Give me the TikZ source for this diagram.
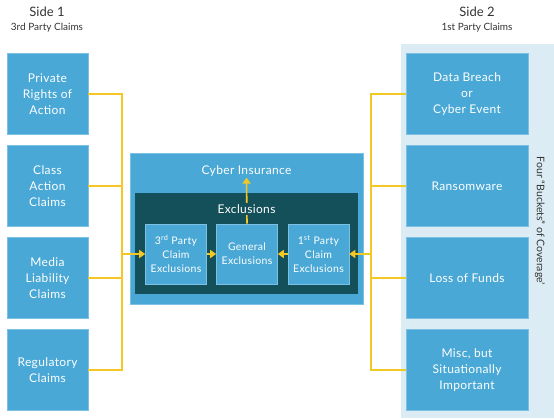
\documentclass[tikz,border=0pt]{standalone}
\usepackage{fontspec}
\setmainfont{Lato}
\newfontfamily\spacedfont{Lato}[LetterSpace=3]
\usetikzlibrary{arrows.meta}
\definecolor{boxblue}{HTML}{49A8D5}
\definecolor{boxedge}{HTML}{7CC1E4}
\definecolor{darkteal}{HTML}{14505A}
\definecolor{panelblue}{HTML}{DCECF5}
\definecolor{gold}{HTML}{F4C824}
\definecolor{headgray}{HTML}{333333}
\tikzset{
  claimbox/.style={fill=boxblue, draw=boxedge, line width=0.6pt, text=white,
    align=center, inner sep=0pt, font=\spacedfont\fontsize{12}{16}\selectfont},
  sidebox/.style={claimbox, minimum width=81pt, minimum height=81pt},
  firstbox/.style={claimbox, minimum width=122pt, minimum height=81pt},
  exclbox/.style={claimbox, minimum width=61pt, minimum height=60pt,
    font=\spacedfont\fontsize{10.5}{14}\selectfont},
  conn/.style={draw=gold, line width=1.6pt},
  arr/.style={conn, -{Triangle[length=6pt,width=8pt]}},
  heading/.style={text=headgray, font=\fontsize{13}{15}\selectfont},
  subheading/.style={text=headgray, font=\fontsize{10}{12}\selectfont}
}
\begin{document}
\begin{tikzpicture}[x=1pt, y=-1pt]
\useasboundingbox (0,0) rectangle (554,418);

% first party panel
\fill[panelblue] (401,44) rectangle (554,418);

% column headings
\node[heading] (s1) at (47,12) {Side 1};
\node[subheading] (s1sub) at (47,28) {3rd Party Claims};
\node[heading] (s2) at (477,12) {Side 2};
\node[subheading] (s2sub) at (477,28) {1st Party Claims};

% third party claims
\node[sidebox] (l1) at (47.5,94) {Private\\Rights of\\Action};
\node[sidebox] (l2) at (47.5,186) {Class\\Action\\Claims};
\node[sidebox] (l3) at (47.5,278) {Media\\Liability\\Claims};
\node[sidebox] (l4) at (47.5,370) {Regulatory\\Claims};

% first party claims
\node[firstbox] (r1) at (467,94) {Data Breach\\or\\Cyber Event};
\node[firstbox] (r2) at (467,186) {Ransomware};
\node[firstbox] (r3) at (467,278) {Loss of Funds};
\node[firstbox] (r4) at (467,370) {Misc, but\\Situationally\\Important};

\node[rotate=-90, text=headgray, font=\fontsize{10.5}{12}\selectfont] (buckets)
  at (540,221) {Four “Buckets” of Coverage’};

% cyber insurance block
\node[claimbox, minimum width=233pt, minimum height=151pt] (ci) at (246.5,228.5) {};
\node[fill=darkteal, minimum width=223pt, minimum height=101pt, inner sep=0pt] (ex) at (246.5,243.5) {};
\node[text=white, font=\spacedfont\fontsize{12}{14}\selectfont, inner sep=1pt] (citext) at (246.5,171) {Cyber Insurance};

\node[exclbox] (x3) at (176,254) {3\textsuperscript{rd} Party\\Claim\\Exclusions};
\node[exclbox] (xg) at (247,254) {General\\Exclusions};
\node[exclbox] (x1) at (318.5,254) {1\textsuperscript{st} Party\\Claim\\Exclusions};

% connectors
\coordinate (lj) at (122,254);
\coordinate (rj) at (371,254);
\foreach \n in {l1,l2,l3,l4} \draw[conn] (\n.east) -| (lj);
\foreach \n in {r1,r2,r3,r4} \draw[conn] (\n.west) -| (rj);
\draw[arr] (lj) -- (x3.west);
\draw[arr] (rj) -- (x1.east);
\draw[arr] (x3.east) -- (xg.west);
\draw[arr] (x1.west) -- (xg.east);
\draw[arr] (xg.north) -- (citext.south);

\node[fill=darkteal, text=white, font=\spacedfont\fontsize{12}{14}\selectfont, inner sep=2pt] (extext) at (246.5,209) {Exclusions};
\end{tikzpicture}
\end{document}
